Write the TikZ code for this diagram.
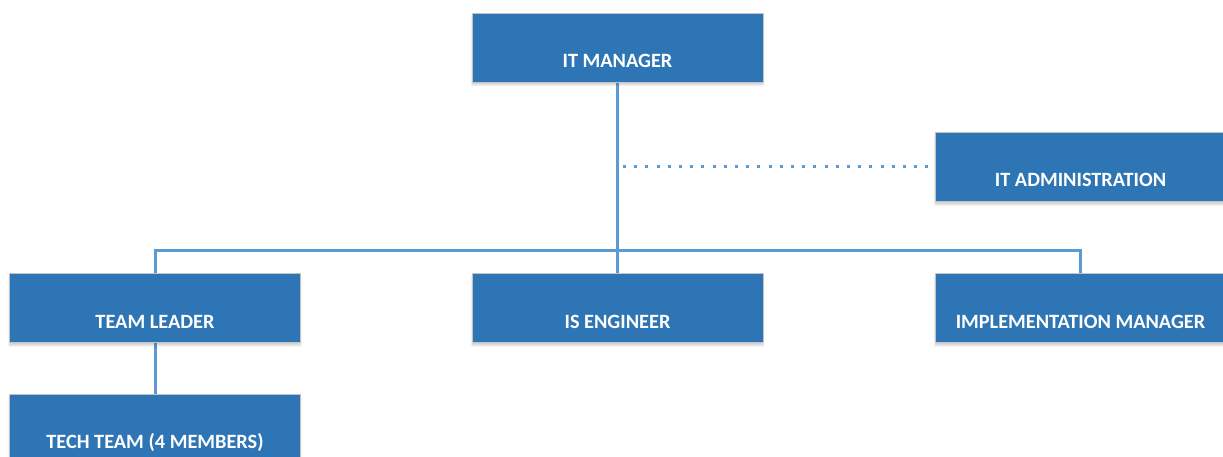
\documentclass[tikz,border=0pt]{standalone}
\usepackage{fontspec}
\setmainfont{Carlito}
\usetikzlibrary{backgrounds,shadows.blur}
\definecolor{boxblue}{HTML}{2E75B6}
\definecolor{boxedge}{HTML}{C4C4C4}
\definecolor{linkblue}{HTML}{5B9BD5}
\begin{document}
\begin{tikzpicture}[x=1pt,y=-1pt,
  orgbox/.style={rectangle, fill=boxblue, draw=boxedge, line width=0.9pt,
    minimum width=291pt, minimum height=69pt, inner sep=0pt,
    blur shadow={shadow xshift=0pt, shadow yshift=-3pt, shadow blur steps=6, shadow opacity=18}},
  orglabel/.style={anchor=base, text=white, inner sep=0pt,
    font=\fontsize{20.3}{24}\selectfont\bfseries},
  link/.style={draw=linkblue, line width=3pt},
  dottedlink/.style={draw=linkblue, line width=3pt, dash pattern=on 3pt off 8.2pt}]
\useasboundingbox (0,0) rectangle (1223,457);

% boxes
\node[orgbox] (mgr)  at (617.5,47.5)  {};
\node[orgbox] (adm)  at (1080.5,167)  {};
\node[orgbox] (tl)   at (155,308)     {};
\node[orgbox] (ise)  at (617.5,308)   {};
\node[orgbox] (impl) at (1080.5,308)  {};
\node[orgbox] (tech) at (155,428.5)   {};

% captions, set in the lower half of each box
\node[orglabel] (mgrT)  at ([yshift=-20pt]mgr.center)  {IT MANAGER};
\node[orglabel] (admT)  at ([yshift=-20pt]adm.center)  {IT ADMINISTRATION};
\node[orglabel] (tlT)   at ([yshift=-20pt]tl.center)   {TEAM LEADER};
\node[orglabel] (iseT)  at ([yshift=-20pt]ise.center)  {IS ENGINEER};
\node[orglabel] (implT) at ([yshift=-20pt]impl.center) {IMPLEMENTATION MANAGER};
\node[orglabel] (techT) at ([yshift=-20pt]tech.center) {TECH TEAM (4 MEMBERS)};

% reporting lines
\begin{scope}[on background layer]
  \coordinate (tap) at (623,167);
  \draw[link] (mgr.south) -- (ise.north);
  \draw[link] (tl.north) -- ++(0,-23) -| (impl.north);
  \draw[link] (tl.south) -- (tech.north);
  \draw[dottedlink] (tap) -- ([xshift=-4pt]adm.west);
\end{scope}
\end{tikzpicture}
\end{document}
